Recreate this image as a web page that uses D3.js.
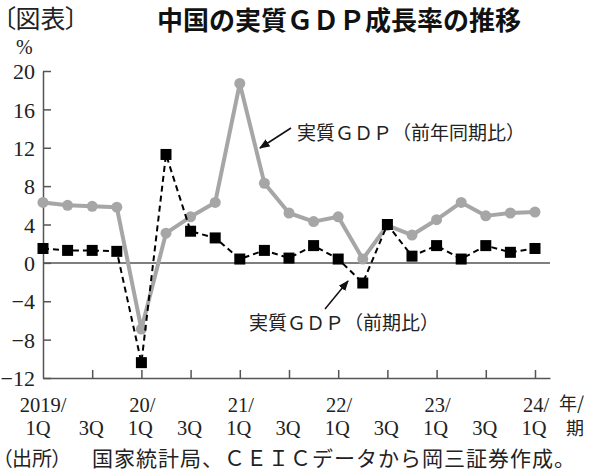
<!DOCTYPE html>
<html><head><meta charset="utf-8">
<script src="https://cdn.jsdelivr.net/npm/d3@7"></script>
<style>
body{margin:0;background:#fff;}
svg{display:block;}
.cjk{font-family:"Noto Sans CJK JP","Noto Sans CJK SC",sans-serif;}
.num{font-family:"Liberation Serif","DejaVu Serif",serif;}
</style></head>
<body>
<svg id="chart" width="600" height="473"></svg>
<script>
// ---- data ----
const quarters = ["2019Q1","2019Q2","2019Q3","2019Q4","2020Q1","2020Q2","2020Q3","2020Q4",
  "2021Q1","2021Q2","2021Q3","2021Q4","2022Q1","2022Q2","2022Q3","2022Q4",
  "2023Q1","2023Q2","2023Q3","2023Q4","2024Q1"];
const yoy = [6.3, 6.0, 5.9, 5.8, -6.9, 3.1, 4.8, 6.3, 18.7, 8.3, 5.2, 4.3, 4.8, 0.4, 3.9, 2.9, 4.5, 6.3, 4.9, 5.2, 5.3];
const qoq = [1.5, 1.3, 1.3, 1.2, -10.4, 11.3, 3.3, 2.6, 0.4, 1.3, 0.5, 1.8, 0.4, -2.1, 4.0, 0.7, 1.8, 0.4, 1.8, 1.1, 1.5];
const yTicks = [-12, -8, -4, 0, 4, 8, 12, 16, 20];
const xTickIdx = [2, 4, 6, 8, 10, 12, 14, 16, 18, 20];
const xLabelIdx = [0, 2, 4, 6, 8, 10, 12, 14, 16, 18, 20];
const xLabelYear = ["2019/", "", "20/", "", "21/", "", "22/", "", "23/", "", "24/"];
const xLabelQ = ["1Q", "3Q", "1Q", "3Q", "1Q", "3Q", "1Q", "3Q", "1Q", "3Q", "1Q"];

const svg = d3.select("#chart");
const x = d3.scaleLinear().domain([0, 20.61]).range([43, 550]);
const y = d3.scaleLinear().domain([-12, 20]).range([378, 71]);
const axisColor = "#555";

// titles
svg.append("text").attr("class","cjk").attr("x",3).attr("y",28)
  .attr("font-size",25).attr("fill","#222")
  .style("font-feature-settings","'palt'").text("〔図表〕");
svg.append("text").attr("class","cjk").attr("x",157).attr("y",30)
  .attr("font-size",26).attr("font-weight",700).attr("fill","#111").text("中国の実質ＧＤＰ成長率の推移");
svg.append("text").attr("class","num").attr("x",16).attr("y",54)
  .attr("font-size",20).attr("fill","#222").text("%");

// y axis
const yAxis = d3.axisLeft(y).tickValues(yTicks).tickSizeInner(-8).tickSizeOuter(0).tickPadding(8);
const gy = svg.append("g").attr("transform","translate(43,0)").call(yAxis);
gy.select(".domain").attr("stroke",axisColor).attr("stroke-width",1.5);
gy.selectAll(".tick line").attr("stroke",axisColor).attr("stroke-width",1.5);
gy.selectAll(".tick text").attr("class","num").attr("font-size",22).attr("fill","#222")
  .attr("font-family","Liberation Serif, serif").attr("dy","0.35em");

// x axis
const xAxis = d3.axisBottom(x).tickValues(xTickIdx).tickSizeInner(-8).tickSizeOuter(0).tickFormat("");
const gx = svg.append("g").attr("transform","translate(0,378)").call(xAxis);
gx.select(".domain").attr("stroke",axisColor).attr("stroke-width",1.5);
gx.selectAll(".tick line").attr("stroke",axisColor).attr("stroke-width",1.5);

// zero line
svg.append("line").attr("x1",x(0)).attr("x2",x(20.61)).attr("y1",y(0)).attr("y2",y(0))
  .attr("stroke",axisColor).attr("stroke-width",1.5);

// x labels
const xl = svg.append("g");
xl.selectAll("text.yr").data(xLabelIdx).enter().append("text")
  .attr("class","num").attr("x",(d,i)=>x(d)+(i===0?0:1)).attr("y",412)
  .attr("text-anchor","middle").attr("font-size",20.5).attr("fill","#222")
  .text((d,i)=>xLabelYear[i]);
xl.selectAll("text.q").data(xLabelIdx).enter().append("text")
  .attr("class","num").attr("x",(d,i)=>x(d)-(i===0?5:1)).attr("y",435)
  .attr("text-anchor","middle").attr("font-size",20.5).attr("fill","#222")
  .text((d,i)=>xLabelQ[i]);
svg.append("text").attr("class","cjk").attr("x",559).attr("y",410).attr("font-size",18).attr("fill","#222").text("年/");
svg.append("text").attr("class","cjk").attr("x",566).attr("y",435).attr("font-size",18).attr("fill","#222").text("期");

// series: yoy (gray)
const line = d3.line().x((d,i)=>x(i)).y(d=>y(d));
svg.append("path").datum(yoy).attr("d",line).attr("fill","none")
  .attr("stroke","#a6a6a6").attr("stroke-width",4).attr("stroke-linejoin","round");
svg.selectAll("circle.yoy").data(yoy).enter().append("circle")
  .attr("cx",(d,i)=>x(i)).attr("cy",d=>y(d)).attr("r",5.5).attr("fill","#a6a6a6");

// series: qoq (black dashed, squares)
svg.append("path").datum(qoq).attr("d",line).attr("fill","none")
  .attr("stroke","#000").attr("stroke-width",2).attr("stroke-dasharray","6,4");
const sq = 11;
svg.selectAll("rect.qoq").data(qoq).enter().append("rect")
  .attr("x",(d,i)=>x(i)-sq/2).attr("y",d=>y(d)-sq/2).attr("width",sq).attr("height",sq).attr("fill","#000");

// annotations
svg.append("defs").append("marker").attr("id","ah").attr("viewBox","0 0 10 10")
  .attr("refX",9).attr("refY",5).attr("markerWidth",7).attr("markerHeight",7).attr("orient","auto")
  .append("path").attr("d","M0,1 L10,5 L0,9 z").attr("fill","#111");
svg.append("line").attr("x1",291).attr("y1",128).attr("x2",260).attr("y2",148)
  .attr("stroke","#111").attr("stroke-width",1.5).attr("marker-end","url(#ah)");
svg.append("line").attr("x1",325).attr("y1",309).attr("x2",348).attr("y2",281)
  .attr("stroke","#111").attr("stroke-width",1.5).attr("marker-end","url(#ah)");
svg.append("text").attr("class","cjk").attr("x",297).attr("y",140).attr("font-size",19).attr("fill","#222")
  .text("実質ＧＤＰ（前年同期比）");
svg.append("text").attr("class","cjk").attr("x",249).attr("y",330).attr("font-size",19).attr("fill","#222")
  .text("実質ＧＤＰ（前期比）");

// source
svg.append("text").attr("class","cjk").attr("x",2).attr("y",466).attr("font-size",20).attr("fill","#222")
  .style("font-feature-settings","'palt'").text("（出所）");
svg.append("text").attr("class","cjk").attr("x",92).attr("y",466).attr("font-size",21).attr("fill","#222")
  .attr("letter-spacing",1).text("国家統計局、ＣＥＩＣデータから岡三証券作成。");
</script>
</body></html>
